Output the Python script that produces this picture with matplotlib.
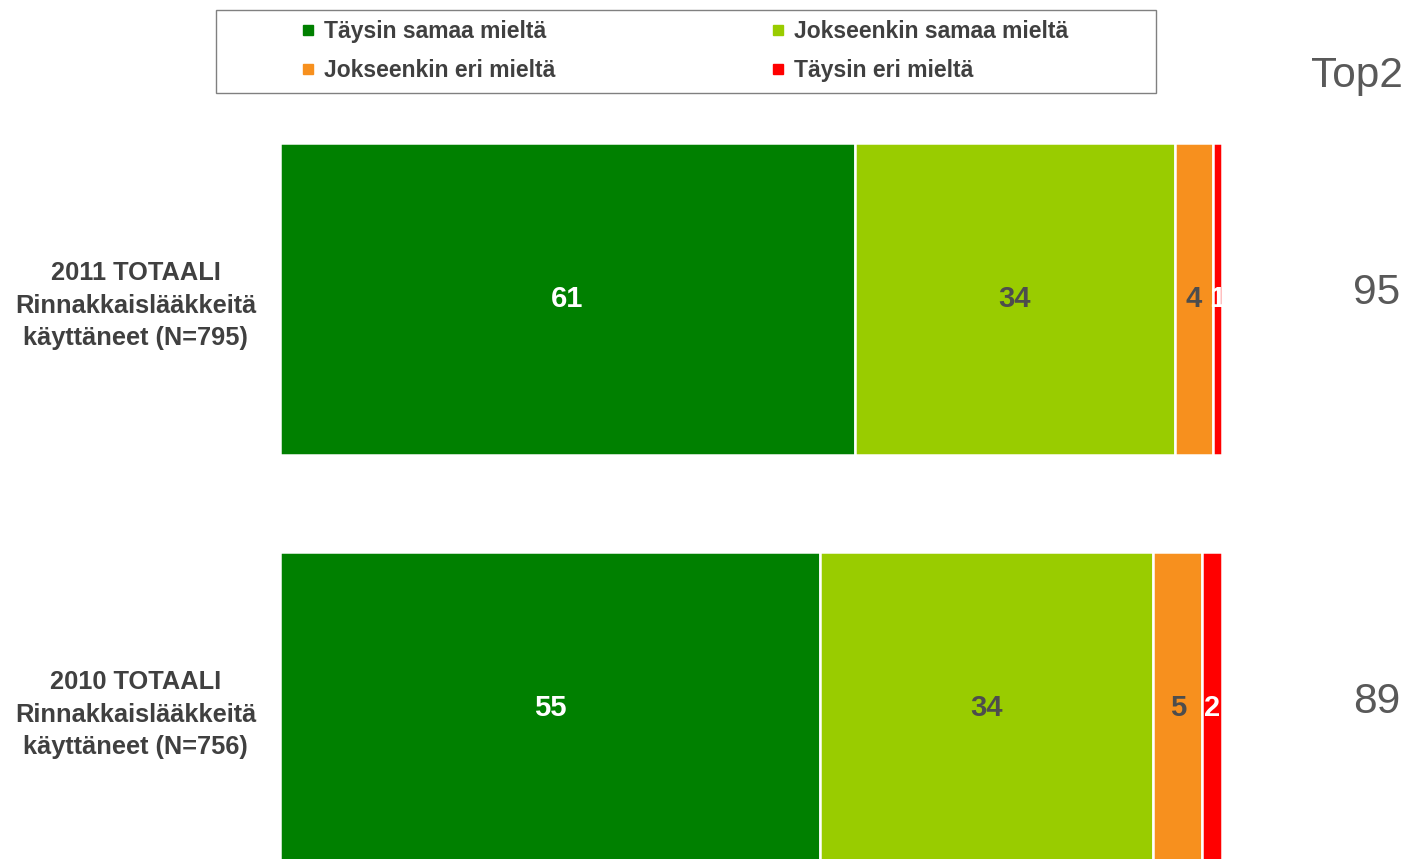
import matplotlib.pyplot as plt
import numpy as np
from matplotlib.lines import Line2D
from matplotlib.patches import Rectangle

plt.rcParams['font.family'] = ['Liberation Sans', 'DejaVu Sans']

# data
groups = ["2011 TOTAALI\nRinnakkaislääkkeitä\nkäyttäneet (N=795)",
          "2010 TOTAALI\nRinnakkaislääkkeitä\nkäyttäneet (N=756)"]
series = ["Täysin samaa mieltä", "Jokseenkin samaa mieltä",
          "Jokseenkin eri mieltä", "Täysin eri mieltä"]
vals_2011 = [61, 34, 4, 1]
vals_2010 = [55, 34, 5, 2]
top2 = [95, 89]

colors = ["#008000", "#99cc00", "#f7901e", "#ff0000"]
txtcol = ["white", "#4d4d4d", "#4d4d4d", "white"]

W, H = 1408, 859
fig = plt.figure(figsize=(W / 100, H / 100), dpi=100)
ax = fig.add_axes([280 / W, 0, (1222 - 280) / W, 1 - 143 / H])

data = np.array([vals_2011, vals_2010], dtype=float)
pct = data / data.sum(axis=1, keepdims=True) * 100
ypos = [1, 0]
bh = 0.763

left = np.zeros(2)
for j in range(len(series)):
    ax.barh(ypos, pct[:, j], left=left, height=bh, color=colors[j],
            edgecolor="white", linewidth=1.8, label=series[j])
    for i in range(2):
        ax.text(left[i] + pct[i, j] / 2, ypos[i], str(int(data[i, j])),
                ha="center", va="center", fontsize=21, fontweight="bold",
                color=txtcol[j], clip_on=True)
    left += pct[:, j]

ax.set_xlim(0, 100)
ax.set_ylim(-0.369, 1 + bh / 2)
ax.set_xticks([])
ax.set_yticks(ypos)
ax.set_yticklabels(groups, fontsize=18.3, fontweight="bold", color="#404040",
                   linespacing=1.45)
for lab in ax.get_yticklabels():
    lab.set_multialignment("center")
    lab.set_y(lab.get_position()[1])
ax.tick_params(axis="y", length=0, pad=17)
for s in ax.spines.values():
    s.set_visible(False)

# Top2 column
fig.text(1403 / W, 1 - 76 / H, "Top2", ha="right", va="center",
         fontsize=30.5, color="#595959")
for i, v in enumerate(top2):
    ax.annotate(str(v), xy=(1, ypos[i]), xycoords=("axes fraction", "data"),
                xytext=(1400 / W, 4.5), textcoords=("figure fraction", "offset points"),
                ha="right", va="center", fontsize=30.5, color="#595959",
                annotation_clip=False)

# legend, row-major order
order = [0, 2, 1, 3]
handles = [Line2D([], [], marker="s", linestyle="none", markersize=6.5,
                  color=colors[k]) for k in order]
fig.legend(handles, [series[k] for k in order], ncol=2, frameon=False,
           loc="center", bbox_to_anchor=(685 / W, 1 - 51 / H),
           prop={"size": 16.5, "weight": "bold"}, labelcolor="#404040",
           handlelength=0.6, handletextpad=0.4, columnspacing=9.4,
           labelspacing=0.72)
fig.patches.append(Rectangle((216 / W, 1 - 93 / H), (1156 - 216) / W, 83 / H,
                             transform=fig.transFigure, fill=False,
                             edgecolor="#808080", linewidth=1))

fig.savefig("out.png", dpi=100)
